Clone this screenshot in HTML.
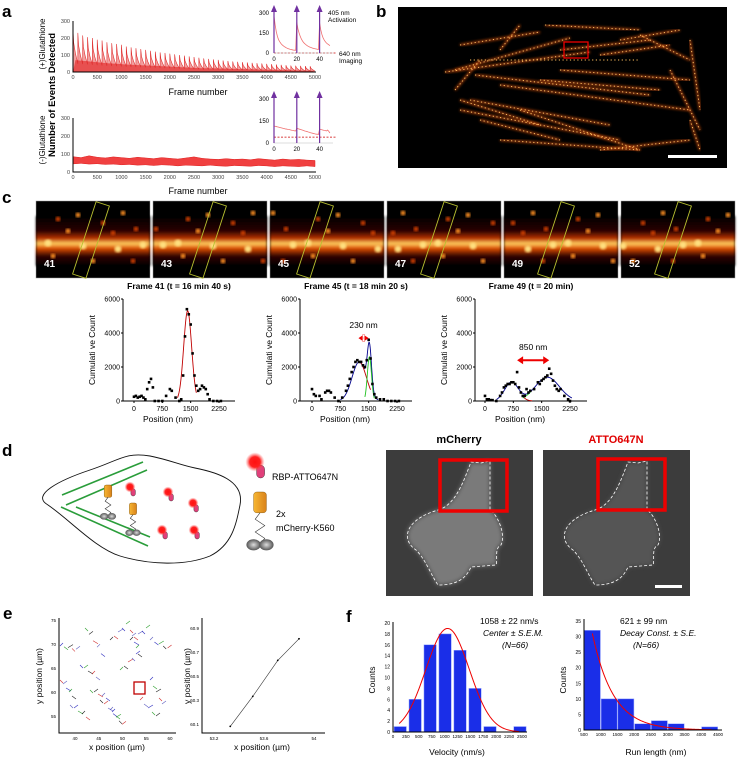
<!DOCTYPE html>
<html><head><meta charset="utf-8"><style>
html,body{margin:0;padding:0;background:#fff}
svg{display:block;font-family:"Liberation Sans",sans-serif}
</style></head><body>
<svg id="fig" width="740" height="762" viewBox="0 0 740 762" xmlns="http://www.w3.org/2000/svg">
<defs>
<linearGradient id="band" x1="0" y1="0" x2="0" y2="1">
<stop offset="0" stop-color="#000"/><stop offset="0.3" stop-color="#2a0400"/><stop offset="0.45" stop-color="#b83000"/><stop offset="0.55" stop-color="#ffd060"/><stop offset="0.65" stop-color="#d84a00"/><stop offset="0.8" stop-color="#300500"/><stop offset="1" stop-color="#000"/>
</linearGradient>
<radialGradient id="glow"><stop offset="0" stop-color="#ff1010"/><stop offset="0.55" stop-color="#ff2020"/><stop offset="1" stop-color="#ff6060" stop-opacity="0"/></radialGradient>
<radialGradient id="ball"><stop offset="0" stop-color="#ddd"/><stop offset="1" stop-color="#555"/></radialGradient>
<linearGradient id="orng" x1="0" y1="0" x2="1" y2="0"><stop offset="0" stop-color="#f7b733"/><stop offset="1" stop-color="#d9821a"/></linearGradient>
<filter id="blur1"><feGaussianBlur stdDeviation="1.2"/></filter>
<filter id="blur2"><feGaussianBlur stdDeviation="2.5"/></filter>
</defs>
<g id="root"></g>
</svg>
<script>
// ===== Panel a data =====
const aPeaks=[250,230,215,205,200,190,185,175,170,165,160,150,145,140,135,130,125,120,115,112,108,104,100,96,92,88,84,80,77,74,71,68,65,62,60,58,56,54,52,50,48,46,44,42,40,38,37,36,35,34];
const aTroughs=[50,48,46,44,42,40,38,36,35,34,32,31,30,29,28,27,26,25,24,23,22,21,20,19,18,17,16,16,15,15,14,14,13,13,12,12,11,11,10,10,9,9,8,8,8,7,7,6,6,5];
const bHigh=[85,80,90,82,78,84,80,76,82,78,74,80,76,72,78,84,76,72,70,74,70,72,68,74,70,66,72,68,70,66,64];
const bLow=[45,48,44,46,42,44,40,42,38,40,36,40,38,34,38,36,34,38,34,32,36,34,32,36,34,30,34,32,30,34,30];
const aTicksX=[0,500,1000,1500,2000,2500,3000,3500,4000,4500,5000];
const aTicksY=[0,100,200,300];
const inTop=[280,210,160,125,100,85,72,62,55,48,43,38,34,31,28,26,24,22,21,20,230,180,150,125,105,90,78,70,62,56,50,46,42,39,36,34,32,30,28,26,225,175,140,115,98,85,75,68,62,55];
const inBot=[115,114,112,110,108,106,104,102,100,98,96,95,93,92,90,88,86,85,83,82,100,98,95,93,90,88,85,82,80,78,75,73,70,68,66,64,62,60,60,58,95,92,90,88,86,85,82,88,80,68];
// ===== Panel c data =====
const c1Pos=[0,50,100,150,200,250,300,350,400,450,500,550,650,750,850,950,1000,1100,1200,1250,1300,1350,1400,1450,1500,1550,1600,1650,1700,1750,1800,1850,1900,1950,2000,2100,2200,2300];
const c1Cnt=[250,300,200,250,300,200,100,700,1100,1300,800,0,0,0,300,700,600,200,0,100,1500,3800,5400,5100,4500,2800,1500,900,600,700,900,800,700,400,100,0,0,0];
const c2Pos=[0,50,100,200,250,350,400,450,500,600,700,800,900,950,1000,1050,1100,1150,1200,1250,1300,1350,1400,1450,1500,1550,1600,1650,1700,1800,1900,2000,2100,2200,2300];
const c2Cnt=[700,400,300,300,100,500,600,600,500,200,0,200,600,900,1300,1700,2000,2300,2400,2300,2300,2100,2000,2400,3600,2500,1000,400,200,100,100,0,0,0,0];
const c3Pos=[0,50,100,150,200,300,400,450,500,550,600,650,700,750,800,850,900,950,1000,1050,1100,1150,1200,1300,1400,1450,1500,1550,1600,1650,1700,1750,1800,1850,1900,1950,2000,2100,2200,2250];
const c3Cnt=[300,100,100,50,50,0,300,500,800,900,1000,1000,1100,1100,1000,1700,800,500,300,300,700,500,600,700,1100,1000,1200,1300,1400,1500,1900,1600,1200,900,700,600,700,300,100,0];
const cTicksX=[0,750,1500,2250];
const cTicksY=[0,2000,4000,6000];
// ===== Panel e data =====
const eTrX=[53.33,53.51,53.71,53.88];
const eTrY=[60.08,60.33,60.63,60.81];
const eTicksX=[53.2,53.6,54];
const eTicksY=[60.1,60.3,60.5,60.7,60.9];
// ===== Panel f data =====
const velBins=[0,1,2,3,4,5,6,7,8];
const velCounts=[1,6,16,18,15,8,1,0,1];
const velTicks=[0,250,500,750,1000,1250,1500,1750,2000,2250,2500];
const velYTicks=[0,2,4,6,8,10,12,14,16,18,20];
const runStarts=[500,1000,1500,2000,2500,3000,3500,4000];
const runCounts=[32,10,10,2,3,2,0,1];
const runTicks=[500,1000,1500,2000,2500,3000,3500,4000,4500];
const runYTicks=[0,5,10,15,20,25,30,35];

const NS='http://www.w3.org/2000/svg';
const root=document.getElementById('root');
function el(tag,attrs,parent,name){const e=document.createElementNS(NS,tag);for(const k in attrs)e.setAttribute(k,attrs[k]);


(parent||root).appendChild(e);return e;}
function txt(x,y,s,size,parent,name,extra){const t=el('text',Object.assign({x:x,y:y,'font-size':size,fill:'#000'},extra||{}),parent,name);t.textContent=s;return t;}
function lin(d0,d1,r0,r1){return v=>r0+(v-d0)/(d1-d0)*(r1-r0);}
function axes(g,x0,x1,yb,yt){el('path',{d:`M${x0} ${yt}V${yb}H${x1}`,stroke:'#000','stroke-width':1,fill:'none'},g,'axis-lines');}

[['a',2,17],['b',376,17],['c',2,203],['d',2,456],['e',3,619],['f',346,622]].forEach(p=>txt(p[1],p[2],p[0],17,root,'panel-label-'+p[0],{'font-weight':'bold'}));

// ===== Panel a =====
function panelA(){
 const g=el('g',{},root,'panel-a');
 const X=lin(0,5000,73,315);
 const Yt=lin(0,300,72,21);
 let pts=[];
 aPeaks.forEach((p,i)=>{const t=aTroughs[i],f=i*100;
  pts.push([X(f),Yt(t)],[X(f),Yt(p)],[X(f+15),Yt(t+(p-t)*0.6)],[X(f+50),Yt(t+(p-t)*0.3)],[X(f+99),Yt(t)]);});
 el('path',{d:'M'+X(0)+' '+Yt(0)+'L'+pts.map(p=>p.join(' ')).join('L')+'L'+X(5000)+' '+Yt(0)+'Z',fill:'#f2a0a0',stroke:'none'},g,'top-trace-fill');
 el('path',{d:'M'+X(0)+' '+Yt(0)+'L'+aTroughs.map((t,i)=>X(i*100+50)+' '+Yt(t*1.4)).join('L')+'L'+X(5000)+' '+Yt(0)+'Z',fill:'#e85050',stroke:'none'},g,'top-trace-base');
 el('path',{d:'M'+pts.map(p=>p.join(' ')).join('L'),fill:'none',stroke:'#e03030','stroke-width':0.6},g,'top-trace');
 axes(g,73,316,72,21);
 aTicksY.forEach(v=>{txt(70,Yt(v)+2,v,5.5,g,'y-tick',{'text-anchor':'end',fill:'#444'});});
 aTicksX.forEach(v=>{txt(X(v),79,v,5.5,g,'x-tick',{'text-anchor':'middle',fill:'#444'});});
 txt(198,95,'Frame number',9,g,'x-axis-title-top',{'text-anchor':'middle'});
 const Yb=lin(0,300,172,118);
 const n=bHigh.length;
 let up=bHigh.map((v,i)=>[X(i*5000/(n-1)),Yb(v)]),lo=bLow.map((v,i)=>[X(i*5000/(n-1)),Yb(v)]).reverse();
 el('path',{d:'M'+up.concat(lo).map(p=>p.join(' ')).join('L')+'Z',fill:'#f04040',stroke:'#e02020','stroke-width':0.5},g,'bottom-trace');
 axes(g,73,316,172,118);
 aTicksY.forEach(v=>{txt(70,Yb(v)+2,v,5.5,g,'y-tick',{'text-anchor':'end',fill:'#444'});});
 aTicksX.forEach(v=>{txt(X(v),179,v,5.5,g,'x-tick',{'text-anchor':'middle',fill:'#444'});});
 txt(198,194,'Frame number',9,g,'x-axis-title-bottom',{'text-anchor':'middle'});
 txt(0,0,'(+)Glutathione',8,g,'y-label-plus',{transform:'translate(45,44) rotate(-90)','text-anchor':'middle'});
 txt(0,0,'(-)Glutathione',8,g,'y-label-minus',{transform:'translate(45,140) rotate(-90)','text-anchor':'middle'});
 txt(0,0,'Number of Events Detected',9.5,g,'y-axis-title',{transform:'translate(55,95) rotate(-90)','text-anchor':'middle','font-weight':'bold'});
 function inset(data,yb,yt,dashV,name){
  const gi=el('g',{},g,name);
  const ix=lin(0,50,274,331),iy=lin(0,300,yb,yt);
  el('line',{x1:274,y1:iy(dashV),x2:336,y2:iy(dashV),stroke:'#c00','stroke-width':0.8,'stroke-dasharray':'2,1.5'},gi,'baseline-dash');
  el('polyline',{points:data.map((v,i)=>ix(i)+','+iy(v)).join(' '),fill:'none',stroke:'#f07070','stroke-width':0.8},gi,'inset-trace');
  el('path',{d:`M274 ${yt-5}V${yb}H333`,stroke:'#bbb','stroke-width':0.6,fill:'none'},gi,'inset-axes');
  [0,20,40].forEach(f=>{el('line',{x1:ix(f),y1:yb,x2:ix(f),y2:yt-2,stroke:'#7030a0','stroke-width':1.2},gi,'activation-arrow');
   el('path',{d:`M${ix(f)-3} ${yt-1}L${ix(f)} ${yt-8}L${ix(f)+3} ${yt-1}Z`,fill:'#7030a0'},gi,'arrow-head');
   txt(ix(f),yb+8,f,6,gi,'inset-x-tick',{'text-anchor':'middle'});});
  [0,150,300].forEach(v=>txt(269,iy(v)+2,v,6,gi,'inset-y-tick',{'text-anchor':'end'}));
 }
 inset(inTop,53,13,0,'inset-top');
 inset(inBot,143,99,40,'inset-bottom');
 txt(328,15,'405  nm',6.5,g,'activation-label');
 txt(328,22,'Activation',6.5,g,'activation-label2');
 txt(339,56,'640  nm',6.5,g,'imaging-label');
 txt(339,63,'Imaging',6.5,g,'imaging-label2');
}
panelA();

// ===== Panel b =====
(function(){
 const g=el('g',{},root,'panel-b');
 el('rect',{x:398,y:7,width:329,height:161,fill:'#000'},g,'super-res-image');
 const strokes=[[455,70,570,38],[445,72,590,52],[470,100,610,125],[460,100,540,125],[475,75,650,95],[500,85,690,110],[560,50,650,40],[600,55,670,45],[640,35,690,60],[690,40,700,110],[670,70,700,130],[480,120,560,140],[520,110,640,150],[500,50,520,25],[545,25,640,30],[455,90,480,60],[470,60,640,60],[540,80,660,90],[460,110,620,140],[620,40,680,30],[560,70,690,80],[500,140,640,150],[600,150,690,140],[690,120,700,150],[460,45,540,32]];
 strokes.forEach(s=>el('line',{x1:s[0],y1:s[1],x2:s[2],y2:s[3],stroke:'#c04810','stroke-width':2.5,opacity:0.75,filter:'url(#blur1)'},g,'filament'));
 strokes.forEach(s=>el('line',{x1:s[0],y1:s[1],x2:s[2],y2:s[3],stroke:'#ffc060','stroke-width':1,'stroke-dasharray':'1.2,2.5'},g,'filament-dots'));
 el('rect',{x:564,y:42,width:24,height:16,fill:'none',stroke:'#e00','stroke-width':1.3},g,'roi-box');
 el('rect',{x:668,y:155,width:49,height:3,fill:'#fff'},g,'scale-bar');
})();

// ===== Panel c images =====
(function(){
 const g=el('g',{},root,'panel-c-frames');
 const labs=['41','43','45','47','49','52'];
 labs.forEach((l,i)=>{const x=36+i*117,y=201;
  const gi=el('g',{},g,'frame-'+l);
  el('rect',{x:x,y:y,width:114,height:77,fill:'#000',stroke:'#999','stroke-width':0.5},gi,'frame-bg');
  el('rect',{x:x,y:y+15,width:114,height:50,fill:'url(#band)',filter:'url(#blur1)'},gi,'filament-band');
  [[20,18],[40,14],[65,22],[85,12],[98,28],[30,30],[75,32],[55,60],[95,60],[15,55],[45,45],[80,48],[10,42],[105,44]].forEach((p,k)=>el('circle',{cx:x+((p[0]+i*13)%110)+2,cy:y+p[1],r:k>9?3.5:2.4,fill:k>9?'#ffe080':(k%2?'#ff9020':'#d04000'),filter:'url(#blur1)'},gi,'blob'));
  el('rect',{x:-7,y:-38,width:14,height:76,fill:'none',stroke:'#b8c030','stroke-width':0.9,transform:`translate(${x+55+(i==2?-10:i>2?-3:0)},${y+39}) rotate(18)`},gi,'roi-rect');
  txt(x+8,y+66,l,10,gi,'frame-number',{fill:'#fff','font-weight':'bold'});
 });
})();

// ===== Panel c profiles =====
function profile(ax0,xz,title,pos,cnt,fits,arrow){
 const g=el('g',{},root,'profile-'+title.slice(0,8));
 const X=lin(0,2250,xz,xz+85),Y=lin(0,6000,401,299);
 axes(g,ax0,ax0+112,401,299);
 cTicksY.forEach(v=>{el('line',{x1:ax0-2,y1:Y(v),x2:ax0,y2:Y(v),stroke:'#000'},g,'y-tick-mark');txt(ax0-3,Y(v)+2.5,v,7,g,'y-tick',{'text-anchor':'end'});});
 cTicksX.forEach(v=>{el('line',{x1:X(v),y1:401,x2:X(v),y2:403,stroke:'#000'},g,'x-tick-mark');txt(X(v),411,v,7,g,'x-tick',{'text-anchor':'middle'});});
 txt(ax0+56,289,title,8.5,g,'profile-title',{'text-anchor':'middle','font-weight':'bold'});
 txt(ax0+45,422,'Position (nm)',8.5,g,'x-axis-title',{'text-anchor':'middle'});
 txt(0,0,'Cumulati ve Count',8.5,g,'y-axis-title',{transform:`translate(${ax0-28},350) rotate(-90)`,'text-anchor':'middle'});
 fits.forEach(f=>{let p=[];for(let v=f[1];v<=f[2];v+=10){let s=0;f[0].forEach(q=>s+=q[0]*Math.exp(-((v-q[1])**2)/(2*q[2]*q[2])));p.push(X(v)+','+Y(s));}
  el('polyline',{points:p.join(' '),fill:'none',stroke:f[3],'stroke-width':0.9},g,'fit-curve');});
 pos.forEach((v,i)=>el('rect',{x:X(v)-1.3,y:Y(cnt[i])-1.3,width:2.6,height:2.6,fill:'#000'},g,'data-point'));
 if(arrow){const yA=Y(arrow[2]);
  el('line',{x1:X(arrow[0])+5,y1:yA,x2:X(arrow[1])-5,y2:yA,stroke:'#e00','stroke-width':2},g,'width-arrow');
  el('path',{d:`M${X(arrow[0])} ${yA}l6 -4v8z M${X(arrow[1])} ${yA}l-6 -4v8z`,fill:'#e00'},g,'arrow-heads');
  txt((X(arrow[0])+X(arrow[1]))/2,yA-10,arrow[3],8.5,g,'width-label',{'text-anchor':'middle'});}
}
profile(123,134,'Frame 41 (t = 16 min 40 s)',c1Pos,c1Cnt,[[[[5300,1420,105]],1150,1650,'#c00000']],null);
profile(300,312,'Frame 45 (t = 18 min 20 s)',c2Pos,c2Cnt,[[[[2300,1250,190],[2600,1520,55]],750,1750,'#00008b'],[[[2300,1250,190]],1300,1550,'#c00000'],[[[2600,1520,55]],1400,1650,'#20c020']],[1230,1500,3700,'230 nm']);
profile(475,485,'Frame 49 (t = 20 min)',c3Pos,c3Cnt,[[[[1100,700,180],[1400,1650,320]],300,2300,'#00008b'],[[[1100,700,180]],1000,1250,'#c00000'],[[[1400,1650,320]],1000,1200,'#20c020']],[850,1700,2400,'850 nm']);

// ===== Panel d schematic =====
(function(){
 const g=el('g',{},root,'panel-d-schematic');
 el('path',{d:'M48 505C30 495 60 480 90 470C120 460 125 452 150 456C170 460 180 465 195 468C215 472 245 480 240 505C236 525 232 545 210 556C185 566 150 565 120 556C95 548 70 520 48 505Z',fill:'#fff',stroke:'#111','stroke-width':0.9},g,'cell-outline');
 [[62,495,143,462],[66,505,147,470],[61,507,148,546],[76,507,150,537]].forEach(l=>el('line',{x1:l[0],y1:l[1],x2:l[2],y2:l[3],stroke:'#2a9d3a','stroke-width':1.6},g,'microtubule'));
 function motor(x,y,s,name){const m=el('g',{},g,name);
  el('rect',{x:x-4*s,y:y,width:8*s,height:13*s,rx:2*s,fill:'url(#orng)',stroke:'#7a4a00','stroke-width':0.4},m,'motor-head');
  el('path',{d:`M${x} ${y+13*s}l${-3*s} ${4*s}l${6*s} ${4*s}l${-6*s} ${4*s}l${6*s} ${4*s}l${-3*s} ${3*s}`,fill:'none',stroke:'#333','stroke-width':0.6},m,'motor-linker');
  el('ellipse',{cx:x-4*s,cy:y+33*s,rx:4.5*s,ry:3.5*s,fill:'url(#ball)'},m,'motor-foot');
  el('ellipse',{cx:x+4*s,cy:y+33*s,rx:4.5*s,ry:3.5*s,fill:'url(#ball)'},m,'motor-foot');}
 motor(108,485,0.95,'motor-1');motor(133,503,0.9,'motor-2');motor(260,492,1.6,'legend-motor');
 function rbp(x,y,s,name){const r=el('g',{},g,name);
  el('rect',{x:x+1*s,y:y+2*s,width:5*s,height:8*s,rx:2.5*s,fill:'#e0407a',stroke:'#222','stroke-width':0.4},r,'rbp-body');
  el('circle',{cx:x,cy:y,r:6*s,fill:'url(#glow)'},r,'dye-glow');}
 [[130,487],[168,492],[193,503],[162,530],[194,530]].forEach(p=>rbp(p[0],p[1],0.9,'rbp-molecule'));
 rbp(255,462,1.6,'legend-rbp');
 txt(272,480,'RBP-ATTO647N',9,g,'legend-rbp-label');
 txt(276,517,'2x',9,g,'legend-motor-label');
 txt(276,531,'mCherry-K560',9,g,'legend-motor-label2');
})();

// ===== Panel d images =====
(function(){
 const g=el('g',{},root,'panel-d-images');
 function cellImg(x0,title,color,bright,name){const gi=el('g',{},g,name);
  el('rect',{x:x0,y:450,width:147,height:146,fill:'#3c3c3c'},gi,'image-bg');
  const d=`M${x0+52} ${510}C${x0+70} ${505} ${x0+78} ${480} ${x0+85} ${462}L${x0+95} ${463}L${x0+104} ${461}L${x0+104} ${510}C${x0+112} ${515} ${x0+120} ${535} ${x0+115} ${545}C${x0+108} ${548} ${x0+112} ${560} ${x0+110} ${565}L${x0+85} ${567}C${x0+80} ${578} ${x0+72} ${585} ${x0+52} ${585}C${x0+45} ${575} ${x0+40} ${560} ${x0+30} ${550}C${x0+15} ${540} ${x0+18} ${520} ${x0+52} ${510}Z`;
  el('path',{d:d,fill:bright,filter:'url(#blur2)'},gi,'cell-body');
  el('path',{d:d,fill:'none',stroke:'#fff','stroke-width':0.8,'stroke-dasharray':'3,2'},gi,'cell-outline');
  txt(x0+73,443,title,11,gi,'image-title',{'text-anchor':'middle','font-weight':'bold',fill:color});}
 cellImg(386,'mCherry','#000','#7a7a7a','mcherry-image');
 cellImg(543,'ATTO647N','#e00000','#555','atto-image');
 el('rect',{x:440,y:460,width:67,height:51,fill:'none',stroke:'#e00','stroke-width':3.5},g,'roi-box-mcherry');
 el('rect',{x:598,y:459,width:67,height:51,fill:'none',stroke:'#e00','stroke-width':3.5},g,'roi-box-atto');
 el('rect',{x:655,y:585,width:27,height:3,fill:'#fff'},g,'scale-bar-d');
})();

// ===== Panel e =====
(function(){
 const g=el('g',{},root,'panel-e');
 const X=lin(40,60,75,170),Y=lin(55,75,716,620);
 const cols=['#3030c0','#30a030','#222','#d03030','#6060c0'];
 const tr=[[60,646,80,650],[85,628,105,660],[110,640,130,620],[130,630,140,660],[150,640,172,650],[80,665,100,680],[120,670,140,650],[100,700,120,720],[140,700,160,720],[70,705,90,720],[150,680,165,710],[90,690,110,700],[130,640,150,625],[60,680,75,700],[110,710,125,728]];
 tr.forEach((t,i)=>{for(let k=0;k<5;k++){const x=t[0]+(t[2]-t[0])*k/5,y=t[1]+(t[3]-t[1])*k/5;
  el('line',{x1:x,y1:y,x2:x+3+(k%3),y2:y+((k+i)%2?3:-3),stroke:cols[(i+k)%5],'stroke-width':0.6},g,'trajectory');}});
 axes(g,59,176,733,618);
 [75,70,65,60,55].forEach(v=>txt(56,Y(v)+2,v,4.5,g,'y-tick',{'text-anchor':'end'}));
 [40,45,50,55,60].forEach(v=>txt(X(v),740,v,4.5,g,'x-tick',{'text-anchor':'middle'}));
 el('rect',{x:134,y:682,width:11,height:12,fill:'none',stroke:'#c00000','stroke-width':1.3},g,'zoom-box');
 txt(117,750,'x position (µm)',8.5,g,'x-axis-title',{'text-anchor':'middle'});
 txt(0,0,'y position (µm)',8.5,g,'y-axis-title',{transform:'translate(42,676) rotate(-90)','text-anchor':'middle'});
 const X2=lin(53.2,54,214,314),Y2=lin(60.1,60.9,724,628);
 axes(g,202,325,733,618);
 eTicksY.forEach(v=>txt(199,Y2(v)+2,v.toFixed(1),4.5,g,'y-tick',{'text-anchor':'end'}));
 eTicksX.forEach(v=>txt(X2(v),740,v,4.5,g,'x-tick',{'text-anchor':'middle'}));
 el('polyline',{points:eTrX.map((v,i)=>X2(v)+','+Y2(eTrY[i])).join(' '),fill:'none',stroke:'#333','stroke-width':0.6},g,'trajectory-zoom');
 eTrX.forEach((v,i)=>el('circle',{cx:X2(v),cy:Y2(eTrY[i]),r:0.9,fill:'#000'},g,'trajectory-point'));
 txt(262,750,'x position (µm)',8.5,g,'x-axis-title-2',{'text-anchor':'middle'});
 txt(0,0,'y position (µm)',8.5,g,'y-axis-title-2',{transform:'translate(190,676) rotate(-90)','text-anchor':'middle'});
})();

// ===== Panel f =====
(function(){
 const g=el('g',{},root,'panel-f-velocity');
 const X=lin(0,2500,393,522),Y=lin(0,20,732,623),bw=290;
 velBins.forEach((b,i)=>{if(!velCounts[i])return;const x0=X(b*bw+20),x1=X(b*bw+260);
  el('rect',{x:x0,y:Y(velCounts[i]),width:x1-x0,height:732-Y(velCounts[i]),fill:'#1a2ee8',stroke:'#9aa8ff','stroke-width':0.5},g,'velocity-bar');});
 let p=[];for(let v=120;v<=2450;v+=20)p.push(X(v)+','+Y(19*Math.exp(-((v-1058)**2)/(2*420*420))));
 el('polyline',{points:p.join(' '),fill:'none',stroke:'#e00','stroke-width':1},g,'gaussian-fit');
 axes(g,393,527,732,622);
 velYTicks.forEach(v=>txt(390,Y(v)+2,v,5,g,'y-tick',{'text-anchor':'end'}));
 velTicks.forEach(v=>txt(X(v),738,v,4.5,g,'x-tick',{'text-anchor':'middle'}));
 txt(457,755,'Velocity (nm/s)',8.5,g,'x-axis-title',{'text-anchor':'middle'});
 txt(0,0,'Counts',8.5,g,'y-axis-title',{transform:'translate(375,680) rotate(-90)','text-anchor':'middle'});
 txt(480,624,'1058 ± 22 nm/s',8.5,g,'stat-value');
 txt(483,636,'Center ± S.E.M.',8.5,g,'stat-desc',{'font-style':'italic'});
 txt(502,648,'(N=66)',8.5,g,'stat-n',{'font-style':'italic'});
 const g2=el('g',{},root,'panel-f-runlength');
 const X2=lin(500,4500,584,718),Y2=lin(0,35,730,621);
 runStarts.forEach((s,i)=>{if(!runCounts[i])return;const x0=X2(s+10),x1=X2(s+490);
  el('rect',{x:x0,y:Y2(runCounts[i]),width:x1-x0,height:730-Y2(runCounts[i]),fill:'#1a2ee8',stroke:'#9aa8ff','stroke-width':0.5},g2,'runlength-bar');});
 let q=[];for(let v=750;v<=4300;v+=25)q.push(X2(v)+','+Y2(31*Math.exp(-(v-750)/621)));
 el('polyline',{points:q.join(' '),fill:'none',stroke:'#e00','stroke-width':1},g2,'exp-fit');
 axes(g2,584,722,730,619);
 runYTicks.forEach(v=>txt(581,Y2(v)+2,v,5,g2,'y-tick',{'text-anchor':'end'}));
 runTicks.forEach(v=>txt(X2(v),736,v,4.5,g2,'x-tick',{'text-anchor':'middle'}));
 txt(656,755,'Run length (nm)',8.5,g2,'x-axis-title',{'text-anchor':'middle'});
 txt(0,0,'Counts',8.5,g2,'y-axis-title',{transform:'translate(566,680) rotate(-90)','text-anchor':'middle'});
 txt(620,624,'621 ± 99 nm',8.5,g2,'stat-value');
 txt(620,636,'Decay Const. ± S.E.',8.5,g2,'stat-desc',{'font-style':'italic'});
 txt(633,648,'(N=66)',8.5,g2,'stat-n',{'font-style':'italic'});
})();
</script>
</body></html>
